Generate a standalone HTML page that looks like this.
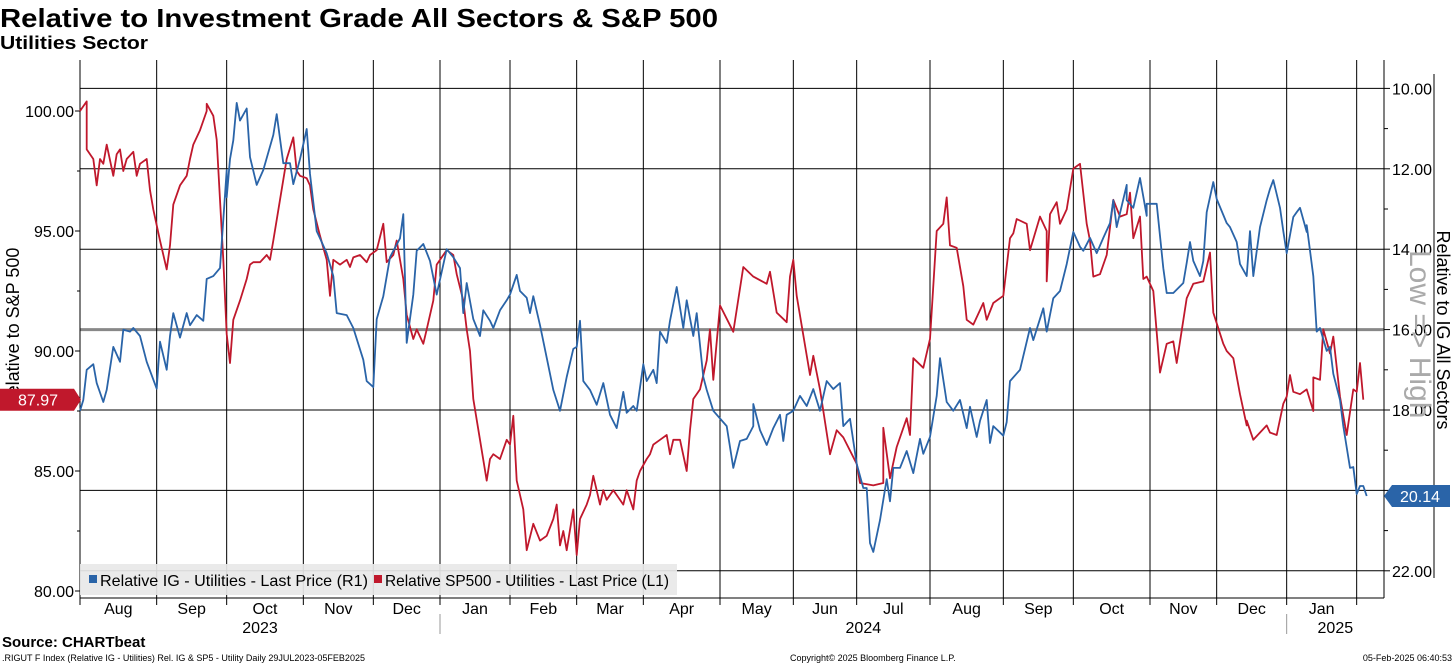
<!DOCTYPE html>
<html><head><meta charset="utf-8"><style>
html,body{margin:0;padding:0;background:#fff;width:1456px;height:665px;overflow:hidden;font-family:"Liberation Sans",sans-serif}
svg text{font-family:"Liberation Sans",sans-serif}
</style></head><body>
<svg id="chart" width="1456" height="665" viewBox="0 0 1456 665" xmlns="http://www.w3.org/2000/svg">
<text x="0" y="27" font-size="26" font-weight="bold" textLength="718" lengthAdjust="spacingAndGlyphs">Relative to Investment Grade All Sectors &amp; S&amp;P 500</text>
<text x="0" y="49" font-size="18" font-weight="bold" textLength="148" lengthAdjust="spacingAndGlyphs">Utilities Sector</text>
<text transform="translate(19,328) rotate(-90)" text-anchor="middle" font-size="18">Relative to S&amp;P 500</text>
<g id="grid"></g>
<g id="axes"></g>
<g id="series"></g>
<g id="legend">
<rect x="80" y="564" width="597" height="31" fill="#e8e8e8" fill-opacity="0.92"/>
<rect x="89" y="575" width="8" height="8" fill="#2a64a8"/>
<text x="100" y="586" font-size="16" textLength="268" lengthAdjust="spacingAndGlyphs">Relative IG - Utilities - Last Price (R1)</text>
<rect x="374" y="575" width="8" height="8" fill="#c0182c"/>
<text x="385" y="586" font-size="16" textLength="284" lengthAdjust="spacingAndGlyphs">Relative SP500 - Utilities - Last Price (L1)</text>
</g>
<text transform="translate(1410,250) rotate(90)" font-size="30" fill="#aaa">Low =&gt; High</text>
<text transform="translate(1437,330) rotate(90)" text-anchor="middle" font-size="18">Relative to IG All Sectors</text>
<text x="2" y="647" font-size="15" font-weight="bold">Source: CHARTbeat</text>
<text x="2" y="661" font-size="9">.RIGUT F Index (Relative IG - Utilities) Rel. IG &amp; SP5 - Utility  Daily 29JUL2023-05FEB2025</text>
<text x="790" y="661" font-size="9">Copyright© 2025 Bloomberg Finance L.P.</text>
<text x="1452" y="661" font-size="9" text-anchor="end">05-Feb-2025 06:40:53</text>
</svg>
<script>
const monthLabels=["Aug","Sep","Oct","Nov","Dec","Jan","Feb","Mar","Apr","May","Jun","Jul","Aug","Sep","Oct","Nov","Dec","Jan",""];
const monthStarts=[0,23,44,67,88,108,129,149,169,192,214,233,255,277,298,321,341,362,383];
const yearLabels=["2023","2024","2025"];
const yearStarts=[0,108,362];
const leftTicks=[80,85,90,95,100];
const rightTicks=[10,12,14,16,18,20,22];
const redT=[0,2,2,4,5,6,7,8,10,11,12,13,14,16,17,18,20,21,22,24,26,27,28,30,32,33,34,36,38,38,40,41,42,43,44,45,46,48,50,51,52,54,56,57,58,60,62,64,65,66,68,69,70,72,74,75,76,78,80,81,82,84,86,87,89,91,92,94,95,97,98,100,101,103,104,106,107,109,110,112,113,115,116,117,118,120,122,123,124,126,128,129,130,131,133,134,136,138,140,142,143,144,145,146,148,149,150,152,153,154,156,157,158,160,161,163,164,166,167,168,170,171,172,174,176,177,178,180,182,183,184,186,188,189,190,
192,196,199,202,206,207,209,212,213,214,215,219,220,222,225,227,229,233,234,238,241,241,243,245,248,249,250,253,255,257,259,260,261,263,265,266,268,271,272,274,277,279,280,281,284,285,288,290,290,291,293,294,296,298,300,302,303,304,306,308,310,312,314,315,316,318,319,320,322,324,326,328,329,332,334,337,339,340,343,344,346,348,350,350,352,356,357,359,361,362,363,364,366,368,370,370,372,373,375,376,378,380,382,383,384,385];
const redV=[100.0,100.4,98.4,98.0,96.9,98.0,97.8,98.6,97.3,98.2,98.4,97.5,98.0,98.3,97.3,97.8,98.0,96.7,95.9,94.6,93.4,94.4,96.1,96.9,97.3,98.0,98.6,99.2,100.0,100.3,99.8,98.8,96.3,93.8,90.7,89.5,91.3,92.1,93.0,93.6,93.7,93.7,94.0,93.8,94.6,96.3,98.0,98.9,97.5,97.3,97.2,96.9,95.9,94.8,93.8,92.3,93.8,93.6,93.8,93.5,93.9,94.0,93.7,94.0,94.2,95.3,93.7,94.0,94.6,93.0,91.5,90.5,90.9,90.3,90.9,92.1,93.6,94.0,94.2,94.0,93.2,92.1,90.9,90.0,88.0,86.3,84.6,85.5,85.7,85.5,86.3,86.1,87.3,84.6,83.4,81.7,82.8,82.1,82.3,83.0,83.6,81.9,82.5,81.7,83.4,81.5,83.0,83.6,84.0,84.8,83.6,84.2,83.8,84.2,84.0,83.6,84.2,83.4,84.6,85.0,85.5,85.7,86.1,86.3,86.5,85.7,86.3,86.3,85.0,86.7,88.0,88.4,89.6,90.9,88.8,
91.9,90.8,93.5,93.1,92.8,93.3,91.6,91.2,93.1,93.8,92.3,89.0,89.8,88.4,85.7,86.7,86.4,85.3,84.5,84.4,84.5,86.8,84.7,86.0,87.2,86.5,89.7,89.3,90.5,95.0,95.3,96.4,94.4,94.3,92.7,91.3,91.1,92.0,91.3,92.0,92.3,94.7,94.9,95.5,95.3,94.2,95.6,95.0,92.9,95.7,96.2,95.3,95.9,97.6,97.8,95.3,94.6,93.1,93.2,94.0,96.3,95.6,95.7,96.6,94.7,95.6,93.0,93.1,92.5,89.1,90.3,90.4,89.5,92.2,92.8,92.9,94.1,91.6,90.3,90.0,89.7,88.2,86.9,87.1,86.3,86.9,86.6,86.5,87.8,88.1,89.0,88.3,88.2,88.4,87.5,88.9,88.8,90.9,89.9,90.6,88.1,86.5,88.4,88.3,89.5,87.97];
const blueT=[0,1,2,4,5,7,8,10,12,13,15,16,18,20,23,24,26,27,28,30,32,33,35,37,38,40,42,44,44,45,46,47,48,50,51,53,55,58,59,61,63,64,66,68,69,71,72,74,76,77,80,82,85,86,88,89,91,93,96,97,98,100,101,103,105,107,110,112,114,115,116,118,120,121,123,124,126,128,129,131,132,134,135,136,138,140,142,144,146,148,149,150,151,153,155,157,159,161,163,164,166,167,169,170,172,173,174,176,177,179,181,182,184,185,187,188,190,
194,196,198,200,202,202,204,206,208,210,211,212,214,216,218,220,222,224,226,228,229,231,233,235,236,237,238,240,242,243,244,246,248,250,252,253,255,257,258,260,262,264,266,267,269,270,272,273,274,277,278,279,282,285,286,289,290,292,294,296,298,300,301,303,305,307,309,310,311,314,314,316,318,320,320,323,325,326,328,331,332,333,334,336,337,338,340,341,344,345,347,348,350,351,352,354,356,357,358,360,361,362,364,365,366,368,368,370,371,372,374,375,376,378,379,381,382,383,384,385,386];
const blueV=[18.02,17.75,17.0,16.86,17.33,17.8,17.5,16.43,16.8,16.0,16.05,15.96,16.16,16.8,17.47,16.3,17.0,16.16,15.59,16.2,15.59,15.89,15.64,15.78,14.74,14.67,14.47,12.03,12.71,11.76,11.29,10.36,10.8,10.5,11.71,12.4,12.03,11.16,10.64,11.86,11.86,12.38,11.76,11.01,12.13,13.55,13.73,14.1,14.67,15.59,15.64,15.96,16.75,17.28,17.43,15.74,15.17,14.2,13.73,13.13,16.33,15.13,14.04,13.87,14.29,15.13,14.0,14.2,14.47,15.59,14.84,15.74,16.16,15.52,15.78,15.96,15.52,15.27,15.13,14.64,15.04,15.21,15.59,15.17,15.89,16.7,17.5,18.02,17.18,16.48,16.43,15.78,17.28,17.5,17.87,17.33,18.12,18.45,17.55,18.07,17.9,18.02,16.86,17.28,17.0,17.33,16.05,16.33,15.78,14.94,15.96,15.27,16.16,15.59,17.18,17.5,18.02,
18.4,19.44,18.77,18.72,18.4,17.85,18.5,18.87,18.45,18.12,18.77,18.12,18.02,17.65,17.9,17.48,18.02,17.28,17.48,17.33,18.4,18.22,19.34,19.94,19.94,21.31,21.53,20.74,19.72,20.27,19.44,19.44,19.02,19.57,18.72,19.09,18.67,17.65,16.71,17.8,18.02,17.75,18.45,17.92,18.67,18.27,17.75,18.82,18.4,18.64,18.3,17.28,17.0,15.96,16.26,15.47,16.05,15.22,15.04,14.37,13.57,13.94,14.04,13.72,14.1,13.72,13.35,12.78,13.45,12.4,12.78,12.97,12.23,13.17,12.87,12.87,14.47,15.09,15.09,14.84,14.34,13.82,14.29,14.67,14.29,13.08,12.33,12.75,13.35,13.45,13.82,14.37,14.67,13.55,14.67,13.45,12.78,12.5,12.28,12.97,13.55,14.1,13.2,13.08,12.97,13.57,13.4,14.67,16.05,15.96,16.53,16.43,17.1,17.75,18.4,19.44,19.42,20.09,19.89,19.89,20.14];

const NS="http://www.w3.org/2000/svg";
const X0=80,X1=1384,TMAX=391.2;
function xS(t){return X0+t*(X1-X0)/TMAX;}
function yL(v){return 111+(100-v)*24;}
function yR(v){return 88.4+(v-10)*40.2;}
function mk(tag,attrs,parent){const e=document.createElementNS(NS,tag);for(const k in attrs)e.setAttribute(k,attrs[k]);parent.appendChild(e);return e;}
const grid=document.getElementById('grid'),axes=document.getElementById('axes'),series=document.getElementById('series');

rightTicks.forEach(v=>{
  const g=mk('line',{x1:X0,x2:X1,y1:yR(v),y2:yR(v),stroke:v===16?'#888':'#000','stroke-width':v===16?3:1},grid);
  
  
  const tk=mk('line',{x1:X1,x2:X1+6,y1:yR(v),y2:yR(v),stroke:'#000'},axes);
  
  
  const t=mk('text',{x:X1+8,y:yR(v)+6,'font-size':16},axes);t.textContent=v.toFixed(2);
  
  
});
for(let v=11;v<=22;v+=2){const m=mk('line',{x1:X1,x2:X1+4,y1:yR(v),y2:yR(v),stroke:'#000'},axes);
  
  }
leftTicks.forEach(v=>{
  const tk=mk('line',{x1:X0-5,x2:X0,y1:yL(v),y2:yL(v),stroke:'#000'},axes);
  
  
  const t=mk('text',{x:X0-6,y:yL(v)+6,'font-size':16,'text-anchor':'end'},axes);t.textContent=v.toFixed(2);
  
  
});
for(let v=82.5;v<101;v+=5){const m=mk('line',{x1:X0-3,x2:X0,y1:yL(v),y2:yL(v),stroke:'#000'},axes);
  
  }
monthStarts.forEach((s,i)=>{
  const l=mk('line',{x1:xS(s),x2:xS(s),y1:60,y2:605,stroke:'#000','stroke-width':1},grid);
  
  
  if(monthLabels[i]){
    const nx=i+1<monthStarts.length?monthStarts[i+1]:TMAX;
    const t=mk('text',{x:xS((s+nx)/2),y:614,'font-size':16,'text-anchor':'middle'},axes);t.textContent=monthLabels[i];
    
    
  }
});
yearStarts.forEach((s,i)=>{
  const e=i+1<yearStarts.length?yearStarts[i+1]:TMAX;
  const t=mk('text',{x:xS((s+e)/2),y:633,'font-size':16,'text-anchor':'middle'},axes);t.textContent=yearLabels[i];
  
  
  if(i>0){const l=mk('line',{x1:xS(s),x2:xS(s),y1:614,y2:634,stroke:'#999'},axes);
    
    }
});
[['line',{x1:X0,x2:X0,y1:60,y2:598,stroke:'#000'}],['line',{x1:X0,x2:X1,y1:598,y2:598,stroke:'#000'}],['line',{x1:X1,x2:X1,y1:60,y2:598,stroke:'#000'}],['line',{x1:1434,x2:1434,y1:74,y2:578,stroke:'#000'}]].forEach(a=>{
  const l=mk(a[0],a[1],axes);
  
  
});
function path(ts,vs,yf,color,name){
  const d=ts.map((t,i)=>(i?'L':'M')+xS(t).toFixed(1)+','+yf(vs[i]).toFixed(1)).join('');
  const p=mk('path',{d:d,fill:'none',stroke:color,'stroke-width':1.8,'stroke-linejoin':'round'},series);
  
  
}
path(redT,redV,yL,'#c0182c','line-sp500-relative');
path(blueT,blueV,yR,'#2a64a8','line-ig-relative');
const ry=yL(redV[redV.length-1]);
const rt=mk('polygon',{points:`0,${ry-11} 74,${ry-11} 81,${ry} 74,${ry+11} 0,${ry+11}`,fill:'#c0182c'},series);


const rtt=mk('text',{x:38,y:ry+6,'font-size':16,fill:'#fff','text-anchor':'middle'},series);rtt.textContent=redV[redV.length-1].toFixed(2);


const by=yR(blueV[blueV.length-1]);
const bt=mk('polygon',{points:`1384,${by} 1392,${by-11} 1450,${by-11} 1450,${by+11} 1392,${by+11}`,fill:'#2a64a8'},series);


const btt=mk('text',{x:1420,y:by+6,'font-size':16,fill:'#fff','text-anchor':'middle'},series);btt.textContent=blueV[blueV.length-1].toFixed(2);


document.getElementById('chart').appendChild(document.getElementById('legend'));
</script>
</body></html>
